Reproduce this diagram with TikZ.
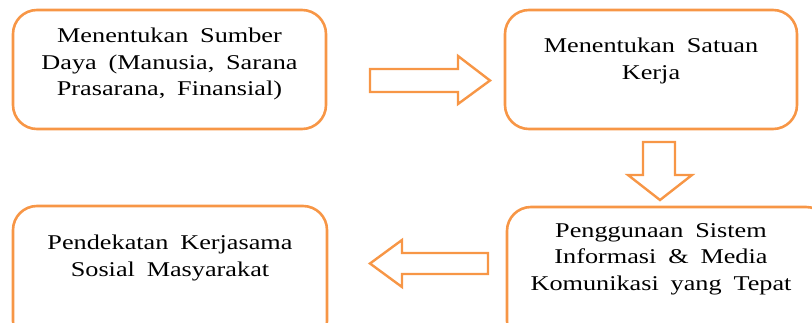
\documentclass[tikz,border=0pt]{standalone}
\usepackage{fontspec}
\setmainfont{Liberation Serif}[FakeStretch=1.25,WordSpace=1.8]
\definecolor{boxorange}{RGB}{247,150,70}
\begin{document}
\begin{tikzpicture}[x=1pt,y=-1pt,
  stagebox/.style={draw=boxorange,line width=2.6pt,rounded corners=24pt},
  stagetext/.style={align=center,font=\fontsize{21}{26.5}\selectfont,inner sep=0pt,anchor=north},
  blockarrow/.style={draw=boxorange,line width=2.4pt,fill=white,line join=miter}]
\useasboundingbox (0,0) rectangle (812,323);
\begin{scope}
\clip (0,0) rectangle (812,323);
% stage boxes
\draw[stagebox] (13,10) rectangle (326,129);
\draw[stagebox] (505,10) rectangle (797,129);
\draw[stagebox] (507,207) rectangle (830,345);
\draw[stagebox] (13,206) rectangle (327,345);
% stage labels
\node[stagetext] (t1) at (169.5,28) {Menentukan Sumber\\Daya (Manusia, Sarana\\Prasarana, Finansial)};
\node[stagetext] (t2) at (651,38) {Menentukan Satuan\\Kerja};
\node[stagetext] (t4) at (661,223) {Penggunaan Sistem\\Informasi \& Media\\Komunikasi yang Tepat};
\node[stagetext] (t3) at (170,235) {Pendekatan Kerjasama\\Sosial Masyarakat};
% block arrows between the stages
\draw[blockarrow] (370,69) -- (458,69) -- (458,56) -- (490,80.5) -- (458,104) -- (458,92) -- (370,92) -- cycle;
\draw[blockarrow] (643,142) -- (675,142) -- (675,175) -- (692,175) -- (660,200) -- (628,175) -- (643,175) -- cycle;
\draw[blockarrow] (488,253) -- (402,253) -- (402,240) -- (370,263.5) -- (402,287) -- (402,274) -- (488,274) -- cycle;
\end{scope}
\end{tikzpicture}
\end{document}
